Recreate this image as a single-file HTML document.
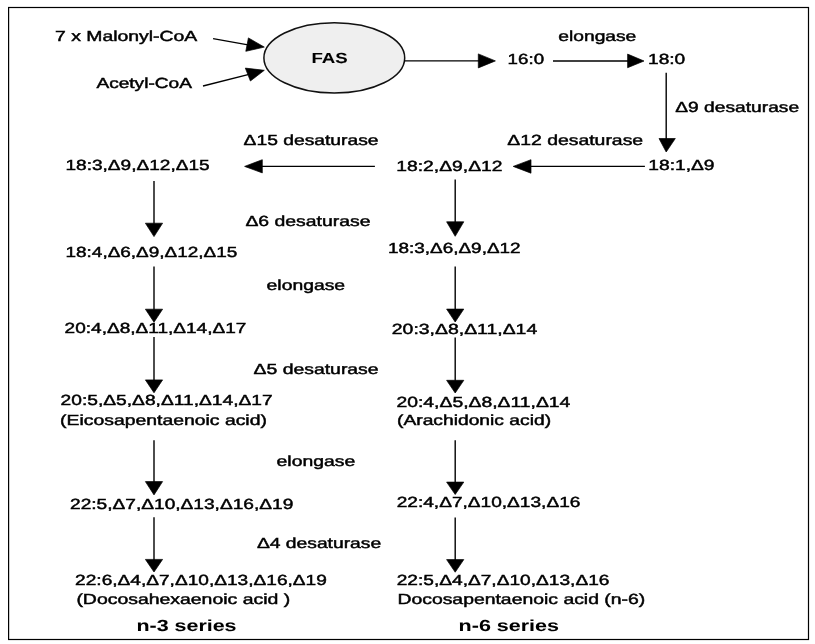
<!DOCTYPE html>
<html><head><meta charset="utf-8"><style>
html,body{margin:0;padding:0;background:#fff;width:815px;height:644px;overflow:hidden}
svg{position:absolute;left:0;top:0;filter:grayscale(100%)}
text{text-rendering:geometricPrecision;font-family:"Liberation Sans",sans-serif;fill:#000;stroke:#000;stroke-width:0.45px}
</style></head><body>
<svg width="815" height="644" viewBox="0 0 815 644">

<rect x="8.6" y="7.5" width="799.9" height="632" fill="none" stroke="#000" stroke-width="1.2"/>
<ellipse cx="334.3" cy="57.9" rx="70.4" ry="35.2" fill="#efefef" stroke="#111" stroke-width="1.5"/>
<line x1="213.1" y1="38.6" x2="248" y2="44.8" stroke="#000" stroke-width="1.3"/>
<polygon fill="#000" stroke="#000" stroke-width="0.7" stroke-linejoin="round" points="264.3,47.1 248.4,37.9 245.8,51.3"/>
<line x1="203" y1="86" x2="249" y2="74.4" stroke="#000" stroke-width="1.3"/>
<polygon fill="#000" stroke="#000" stroke-width="0.7" stroke-linejoin="round" points="264.3,70.3 245.3,68.1 250.4,81.0"/>
<line x1="404" y1="60.9" x2="479" y2="60.9" stroke="#000" stroke-width="1.4"/>
<polygon fill="#000" stroke="#000" stroke-width="0.7" stroke-linejoin="round" points="478.3,53.9 478.3,67.9 495.4,60.9"/>
<line x1="553" y1="61.0" x2="628" y2="61.0" stroke="#000" stroke-width="1.4"/>
<polygon fill="#000" stroke="#000" stroke-width="0.7" stroke-linejoin="round" points="627.6,54.1 627.6,67.7 644.0,61.0"/>
<line x1="666.2" y1="72.7" x2="666.2" y2="139" stroke="#000" stroke-width="1.4"/>
<polygon fill="#000" stroke="#000" stroke-width="0.7" stroke-linejoin="round" points="659.0,138.5 675.3,138.5 666.2,152.0"/>
<line x1="644.9" y1="166.4" x2="530" y2="166.4" stroke="#000" stroke-width="1.4"/>
<polygon fill="#000" stroke="#000" stroke-width="0.7" stroke-linejoin="round" points="531.0,159.7 531.0,173.2 513.2,166.4"/>
<line x1="374.9" y1="166.4" x2="261" y2="166.4" stroke="#000" stroke-width="1.4"/>
<polygon fill="#000" stroke="#000" stroke-width="0.7" stroke-linejoin="round" points="262.3,159.7 262.3,172.9 244.6,166.4"/>
<line x1="154.0" y1="181" x2="154.0" y2="223.7" stroke="#000" stroke-width="1.4"/>
<polygon fill="#000" stroke="#000" stroke-width="0.7" stroke-linejoin="round" points="145.4,223.2 162.6,223.2 154.0,236.6"/>
<line x1="154.0" y1="266.5" x2="154.0" y2="309.7" stroke="#000" stroke-width="1.4"/>
<polygon fill="#000" stroke="#000" stroke-width="0.7" stroke-linejoin="round" points="145.4,309.2 162.6,309.2 154.0,322.2"/>
<line x1="154.0" y1="337" x2="154.0" y2="380.4" stroke="#000" stroke-width="1.4"/>
<polygon fill="#000" stroke="#000" stroke-width="0.7" stroke-linejoin="round" points="145.4,379.9 162.6,379.9 154.0,392.8"/>
<line x1="154.0" y1="440.2" x2="154.0" y2="482.1" stroke="#000" stroke-width="1.4"/>
<polygon fill="#000" stroke="#000" stroke-width="0.7" stroke-linejoin="round" points="145.4,481.6 162.6,481.6 154.0,494.9"/>
<line x1="154.0" y1="517.3" x2="154.0" y2="559.9" stroke="#000" stroke-width="1.4"/>
<polygon fill="#000" stroke="#000" stroke-width="0.7" stroke-linejoin="round" points="145.4,559.4 162.6,559.4 154.0,572.0"/>
<line x1="455.2" y1="179.4" x2="455.2" y2="222.3" stroke="#000" stroke-width="1.4"/>
<polygon fill="#000" stroke="#000" stroke-width="0.7" stroke-linejoin="round" points="446.59999999999997,221.8 463.8,221.8 455.2,236.3"/>
<line x1="455.2" y1="266.5" x2="455.2" y2="309.6" stroke="#000" stroke-width="1.4"/>
<polygon fill="#000" stroke="#000" stroke-width="0.7" stroke-linejoin="round" points="446.59999999999997,309.1 463.8,309.1 455.2,322.0"/>
<line x1="455.2" y1="337.5" x2="455.2" y2="380.8" stroke="#000" stroke-width="1.4"/>
<polygon fill="#000" stroke="#000" stroke-width="0.7" stroke-linejoin="round" points="446.59999999999997,380.3 463.8,380.3 455.2,393.0"/>
<line x1="455.2" y1="440.2" x2="455.2" y2="482.6" stroke="#000" stroke-width="1.4"/>
<polygon fill="#000" stroke="#000" stroke-width="0.7" stroke-linejoin="round" points="446.59999999999997,482.1 463.8,482.1 455.2,494.5"/>
<line x1="455.2" y1="517.4" x2="455.2" y2="560.1" stroke="#000" stroke-width="1.4"/>
<polygon fill="#000" stroke="#000" stroke-width="0.7" stroke-linejoin="round" points="446.59999999999997,559.6 463.8,559.6 455.2,572.2"/>
<text transform="translate(55.00,41.00) scale(1.3290,1)" font-size="14.6" font-weight="normal">7 x Malonyl-CoA</text>
<text transform="translate(96.40,88.00) scale(1.3082,1)" font-size="14.6" font-weight="normal">Acetyl-CoA</text>
<text style="stroke-width:0.05px" transform="translate(311.40,63.00) scale(1.2793,1)" font-size="14.6" font-weight="bold">FAS</text>
<text transform="translate(507.62,64.00) scale(1.2821,1)" font-size="14.6" font-weight="normal">16:0</text>
<text transform="translate(558.30,41.00) scale(1.3169,1)" font-size="14.6" font-weight="normal">elongase</text>
<text transform="translate(647.99,64.00) scale(1.3107,1)" font-size="14.6" font-weight="normal">18:0</text>
<text transform="translate(675.30,112.00) scale(1.3149,1)" font-size="14.6" font-weight="normal">Δ9 desaturase</text>
<text transform="translate(507.20,145.00) scale(1.3294,1)" font-size="14.6" font-weight="normal">Δ12 desaturase</text>
<text transform="translate(648.28,170.00) scale(1.3163,1)" font-size="14.6" font-weight="normal">18:1,Δ9</text>
<text transform="translate(396.28,171.00) scale(1.3215,1)" font-size="14.6" font-weight="normal">18:2,Δ9,Δ12</text>
<text transform="translate(243.60,145.00) scale(1.3196,1)" font-size="14.6" font-weight="normal">Δ15 desaturase</text>
<text transform="translate(65.49,170.00) scale(1.3055,1)" font-size="14.6" font-weight="normal">18:3,Δ9,Δ12,Δ15</text>
<text transform="translate(245.40,226.00) scale(1.3287,1)" font-size="14.6" font-weight="normal">Δ6 desaturase</text>
<text transform="translate(65.50,257.00) scale(1.2985,1)" font-size="14.6" font-weight="normal">18:4,Δ6,Δ9,Δ12,Δ15</text>
<text transform="translate(388.00,253.00) scale(1.2960,1)" font-size="14.6" font-weight="normal">18:3,Δ6,Δ9,Δ12</text>
<text transform="translate(266.60,290.00) scale(1.3254,1)" font-size="14.6" font-weight="normal">elongase</text>
<text transform="translate(64.60,333.00) scale(1.3043,1)" font-size="14.6" font-weight="normal">20:4,Δ8,Δ11,Δ14,Δ17</text>
<text transform="translate(391.80,334.00) scale(1.3303,1)" font-size="14.6" font-weight="normal">20:3,Δ8,Δ11,Δ14</text>
<text transform="translate(253.60,374.00) scale(1.3277,1)" font-size="14.6" font-weight="normal">Δ5 desaturase</text>
<text transform="translate(60.60,405.00) scale(1.3149,1)" font-size="14.6" font-weight="normal">20:5,Δ5,Δ8,Δ11,Δ14,Δ17</text>
<text transform="translate(60.10,425.00) scale(1.3276,1)" font-size="14.6" font-weight="normal">(Eicosapentaenoic acid)</text>
<text transform="translate(396.50,407.00) scale(1.3244,1)" font-size="14.6" font-weight="normal">20:4,Δ5,Δ8,Δ11,Δ14</text>
<text transform="translate(397.00,425.00) scale(1.3188,1)" font-size="14.6" font-weight="normal">(Arachidonic acid)</text>
<text transform="translate(276.60,466.00) scale(1.3271,1)" font-size="14.6" font-weight="normal">elongase</text>
<text transform="translate(70.00,509.00) scale(1.3100,1)" font-size="14.6" font-weight="normal">22:5,Δ7,Δ10,Δ13,Δ16,Δ19</text>
<text transform="translate(396.70,507.00) scale(1.3079,1)" font-size="14.6" font-weight="normal">22:4,Δ7,Δ10,Δ13,Δ16</text>
<text transform="translate(256.90,548.00) scale(1.3202,1)" font-size="14.6" font-weight="normal">Δ4 desaturase</text>
<text transform="translate(75.10,585.00) scale(1.3083,1)" font-size="14.6" font-weight="normal">22:6,Δ4,Δ7,Δ10,Δ13,Δ16,Δ19</text>
<text transform="translate(76.40,604.00) scale(1.3306,1)" font-size="14.6" font-weight="normal">(Docosahexaenoic acid )</text>
<text transform="translate(396.70,585.00) scale(1.3105,1)" font-size="14.6" font-weight="normal">22:5,Δ4,Δ7,Δ10,Δ13,Δ16</text>
<text transform="translate(397.40,604.00) scale(1.3285,1)" font-size="14.6" font-weight="normal">Docosapentaenoic acid (n-6)</text>
<text style="stroke-width:0.05px" transform="translate(136.50,631.00) scale(1.3387,1)" font-size="16.0" font-weight="bold">n-3 series</text>
<text style="stroke-width:0.05px" transform="translate(458.60,631.00) scale(1.3427,1)" font-size="16.0" font-weight="bold">n-6 series</text>
</svg></body></html>
